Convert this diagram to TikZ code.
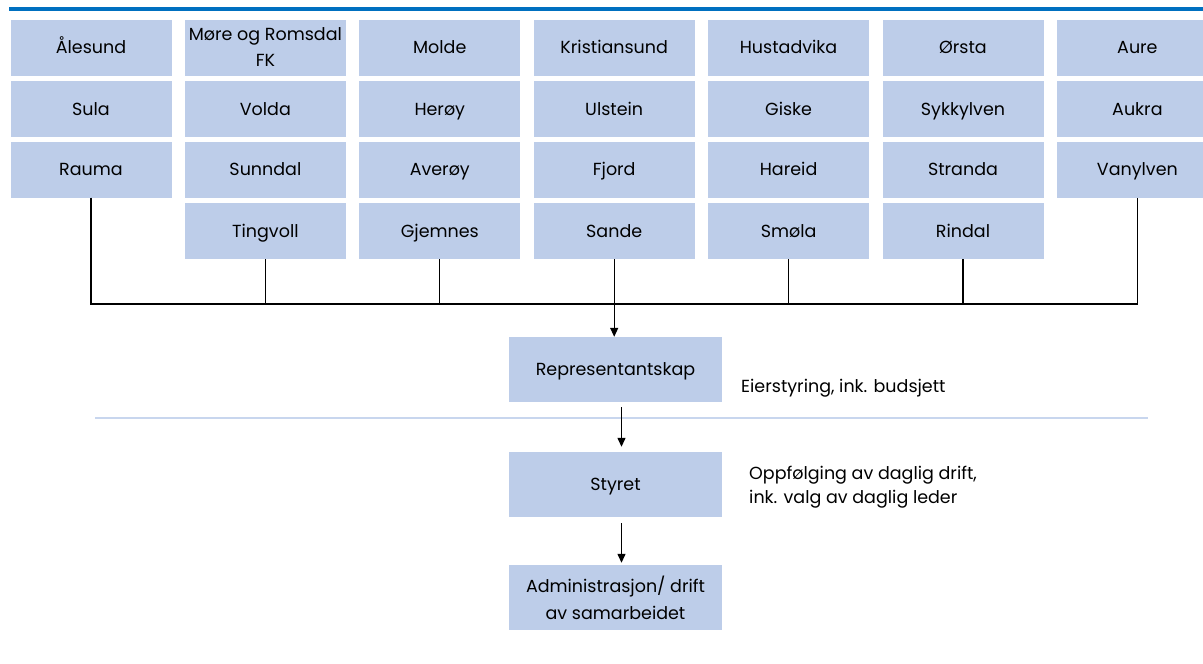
\documentclass[tikz,border=0pt]{standalone}
\usepackage{fontspec}
\setmainfont{Poppins}
\usetikzlibrary{arrows.meta}

\definecolor{boksblaa}{RGB}{189,205,233}
\definecolor{topplinje}{RGB}{0,112,192}
\definecolor{skille}{RGB}{200,214,238}

\tikzset{
  kommune/.style={fill=boksblaa, minimum width=161pt, minimum height=56pt,
    inner sep=1pt, align=center, text height=12.5pt, text depth=0pt,
    font=\fontsize{17.5}{26}\selectfont},
  organ/.style={fill=boksblaa, minimum width=213pt, minimum height=65pt,
    inner sep=1pt, align=center, text height=12.5pt, text depth=0pt,
    font=\fontsize{17.5}{27}\selectfont},
  toline/.style={text height={}, text depth={}},
  merknad/.style={anchor=west, align=left, inner sep=0pt, font=\fontsize{17.5}{24}\selectfont},
  linje/.style={line width=1.3pt},
  pil/.style={line width=1.3pt, -{Triangle[width=8pt,length=9pt]}}
}

\begin{document}
\begin{tikzpicture}[x=1pt, y=-1pt]
        \useasboundingbox (0,0) rectangle (1203,664);
        % Topplinje
            \draw[topplinje, line width=3.5pt] (9,9) -- (1203,9);

            % Kommuner, kolonne 1
            \node[kommune] (alesund) at (91, 47.5) {Ålesund};
            \node[kommune] (sula) at (91, 109) {Sula};
            \node[kommune] (rauma) at (91, 169.5) {Rauma};
            % Kolonne 2
            \node[kommune, toline] (mrfk) at (265.4, 47.5) {Møre og Romsdal\\FK};
            \node[kommune] (volda) at (265.4, 109) {Volda};
            \node[kommune] (sunndal) at (265.4, 169.5) {Sunndal};
            \node[kommune] (tingvoll) at (265.4, 231) {Tingvoll};
            % Kolonne 3
            \node[kommune] (molde) at (439.8, 47.5) {Molde};
            \node[kommune] (heroy) at (439.8, 109) {Herøy};
            \node[kommune] (averoy) at (439.8, 169.5) {Averøy};
            \node[kommune] (gjemnes) at (439.8, 231) {Gjemnes};
            % Kolonne 4
            \node[kommune] (kristiansund) at (614.2, 47.5) {Kristiansund};
            \node[kommune] (ulstein) at (614.2, 109) {Ulstein};
            \node[kommune] (fjord) at (614.2, 169.5) {Fjord};
            \node[kommune] (sande) at (614.2, 231) {Sande};
            % Kolonne 5
            \node[kommune] (hustadvika) at (788.6, 47.5) {Hustadvika};
            \node[kommune] (giske) at (788.6, 109) {Giske};
            \node[kommune] (hareid) at (788.6, 169.5) {Hareid};
            \node[kommune] (smola) at (788.6, 231) {Smøla};
            % Kolonne 6
            \node[kommune] (orsta) at (963, 47.5) {Ørsta};
            \node[kommune] (sykkylven) at (963, 109) {Sykkylven};
            \node[kommune] (stranda) at (963, 169.5) {Stranda};
            \node[kommune] (rindal) at (963, 231) {Rindal};
            % Kolonne 7
            \node[kommune] (aure) at (1137.4, 47.5) {Aure};
            \node[kommune] (aukra) at (1137.4, 109) {Aukra};
            \node[kommune] (vanylven) at (1137.4, 169.5) {Vanylven};

            % Organer
            \node[organ] (repr) at (615.5, 369.5) {Representantskap};
            \node[organ] (styret) at (615.5, 484.5) {Styret};
            \node[organ, toline] (admin) at (615.5, 597.5) {Administrasjon/ drift\\av samarbeidet};

            % Merknader
            \node[merknad] (eier) at (741, 388) {Eierstyring, ink. budsjett};
            \node[merknad] (oppf) at (749, 487) {Oppfølging av daglig drift,\\ink. valg av daglig leder};

            % Skillelinje
            \draw[skille, line width=1.5pt] (95,418) -- (1148,418);

            % Samleskinne
            \coordinate (samle) at (sande.south |- 0,304);
            \draw[linje] (rauma.south) |- (samle) -| (vanylven.south);
            \draw[linje] (tingvoll.south) -- (tingvoll.south |- samle);
            \draw[linje] (gjemnes.south) -- (gjemnes.south |- samle);
            \draw[linje] (smola.south) -- (smola.south |- samle);
            \draw[linje] (rindal.south) -- (rindal.south |- samle);

            % Piler
            \draw[pil] (sande.south) -- (sande.south |- repr.north);
            \draw[pil, shorten <=5pt, shorten >=5pt] ([xshift=6pt]repr.south) -- ([xshift=6pt]styret.north);
            \draw[pil, shorten <=6pt, shorten >=2pt] ([xshift=6pt]styret.south) -- ([xshift=6pt]admin.north);
        \end{tikzpicture}
\end{document}
